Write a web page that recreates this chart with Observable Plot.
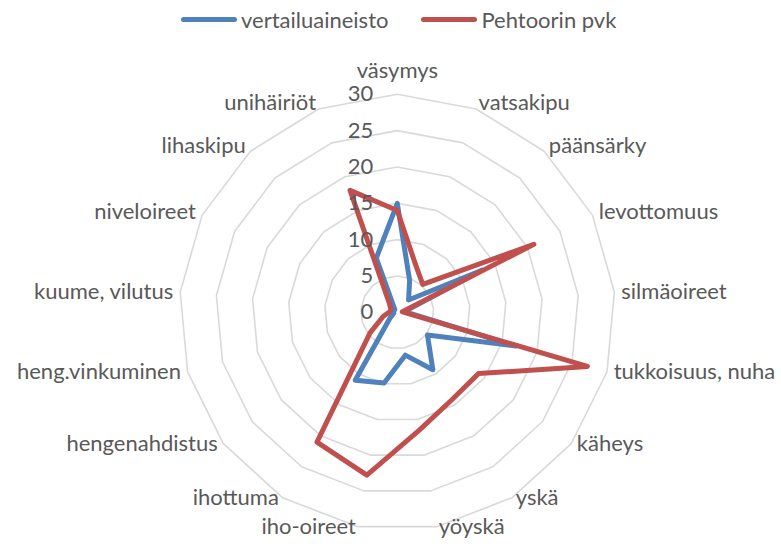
<!DOCTYPE html>
<html>
<head>
<meta charset="utf-8">
<script src="https://cdn.jsdelivr.net/npm/d3@7"></script>
<script src="https://cdn.jsdelivr.net/npm/@observablehq/plot@0.6"></script>
<style>
  html, body { margin: 0; padding: 0; background: #fff; }
  body { width: 781px; height: 551px; overflow: hidden; font-family: Lato, "Liberation Sans", sans-serif; }
  #legend { height: 38px; display: flex; align-items: center; padding-left: 181px; color: #595959; font-size: 22px; }
  .item { display: flex; align-items: center; margin-right: 33px; }
  .swatch { width: 56px; height: 5px; border-radius: 3px; margin-right: 4px; }
  svg { display: block; }
</style>
</head>
<body>
<div id="legend"></div>
<div id="chart"></div>
<script>
const categories = ["väsymys", "vatsakipu", "päänsärky", "levottomuus", "silmäoireet", "tukkoisuus, nuha", "käheys", "yskä", "yöyskä", "iho-oireet", "ihottuma", "hengenahdistus", "heng.vinkuminen", "kuume, vilutus", "niveloireet", "lihaskipu", "unihäiriöt"];
const vertailuaineisto = [15, 4.7, 2.3, 13, 1, 17, 5.2, 9.3, 6, 9.9, 11, 1.2, 0.5, 0.5, 0.5, 0.5, 8];
const pehtoorinPvk = [14, 7, 5.2, 21, 0.7, 27.2, 14, 14.2, 16.5, 22.8, 21, 4.7, 2, 1, 1, 1.6, 18];
const seriesNames = ["vertailuaineisto", "Pehtoorin pvk"];
const seriesColors = ["#4f81bd", "#c0504d"];
const ticks = [0, 5, 10, 15, 20, 25, 30];

const N = categories.length;
const maxV = 30;
const ang = i => 2 * Math.PI * i / N;
const px = (v, i) => v * Math.sin(ang(i));
const py = (v, i) => v * Math.cos(ang(i));

const rows = [vertailuaineisto, pehtoorinPvk].flatMap((vals, s) =>
  vals.map((v, i) => ({series: seriesNames[s], i, value: v})));
const rings = ticks.filter(t => t > 0).flatMap(t => categories.map((c, i) => ({t, i})));

const pad = 0.96; // ~7px in value units
const labels = categories.map((c, i) => {
  const s = Math.sin(ang(i)), co = Math.cos(ang(i));
  return {
    text: c,
    x: (maxV + pad) * s,
    y: maxV * co + pad * Math.max(co, 0) + (Math.abs(s) < 0.1 ? 1.35 : 0),
    side: Math.abs(s) < 0.1 ? "middle" : (s > 0 ? "start" : "end")
  };
});

const textStyle = {fill: "#595959", fontSize: 22};

const chart = Plot.plot({
  width: 781,
  height: 513,
  margin: 0,
  x: {domain: [-30, 30], range: [178.8, 614.8], axis: null},
  y: {domain: [-30, 30], range: [491.8, 55.8], axis: null},
  color: {domain: seriesNames, range: seriesColors},
  style: {fontFamily: "Lato, 'Liberation Sans', sans-serif", background: "#fff"},
  marks: [
    Plot.line(rings, {x: d => px(d.t, d.i), y: d => py(d.t, d.i), z: "t", curve: "linear-closed", stroke: "#d9d9d9", strokeWidth: 1.6}),
    Plot.line(rows, {x: d => px(d.value, d.i), y: d => py(d.value, d.i), z: "series", stroke: "series", curve: "linear-closed", strokeWidth: 5, strokeLinejoin: "round"}),
    Plot.text(ticks, {x: 0, y: d => d, text: d => String(d), textAnchor: "end", dx: -24, ...textStyle}),
    Plot.text(labels.filter(d => d.side === "start"), {x: "x", y: "y", text: "text", textAnchor: "start", lineAnchor: "middle", ...textStyle}),
    Plot.text(labels.filter(d => d.side === "end"), {x: "x", y: "y", text: "text", textAnchor: "end", lineAnchor: "middle", ...textStyle}),
    Plot.text(labels.filter(d => d.side === "middle"), {x: "x", y: "y", text: "text", textAnchor: "middle", lineAnchor: "bottom", ...textStyle})
  ]
});
document.getElementById("chart").appendChild(chart);

const legend = document.getElementById("legend");
seriesNames.forEach((name, k) => {
  const item = document.createElement("div");
  item.className = "item";
  const sw = document.createElement("div");
  sw.className = "swatch";
  sw.style.background = seriesColors[k];
  const label = document.createElement("span");
  label.textContent = name;
  item.appendChild(sw);
  item.appendChild(label);
  legend.appendChild(item);
});
</script>
</body>
</html>
